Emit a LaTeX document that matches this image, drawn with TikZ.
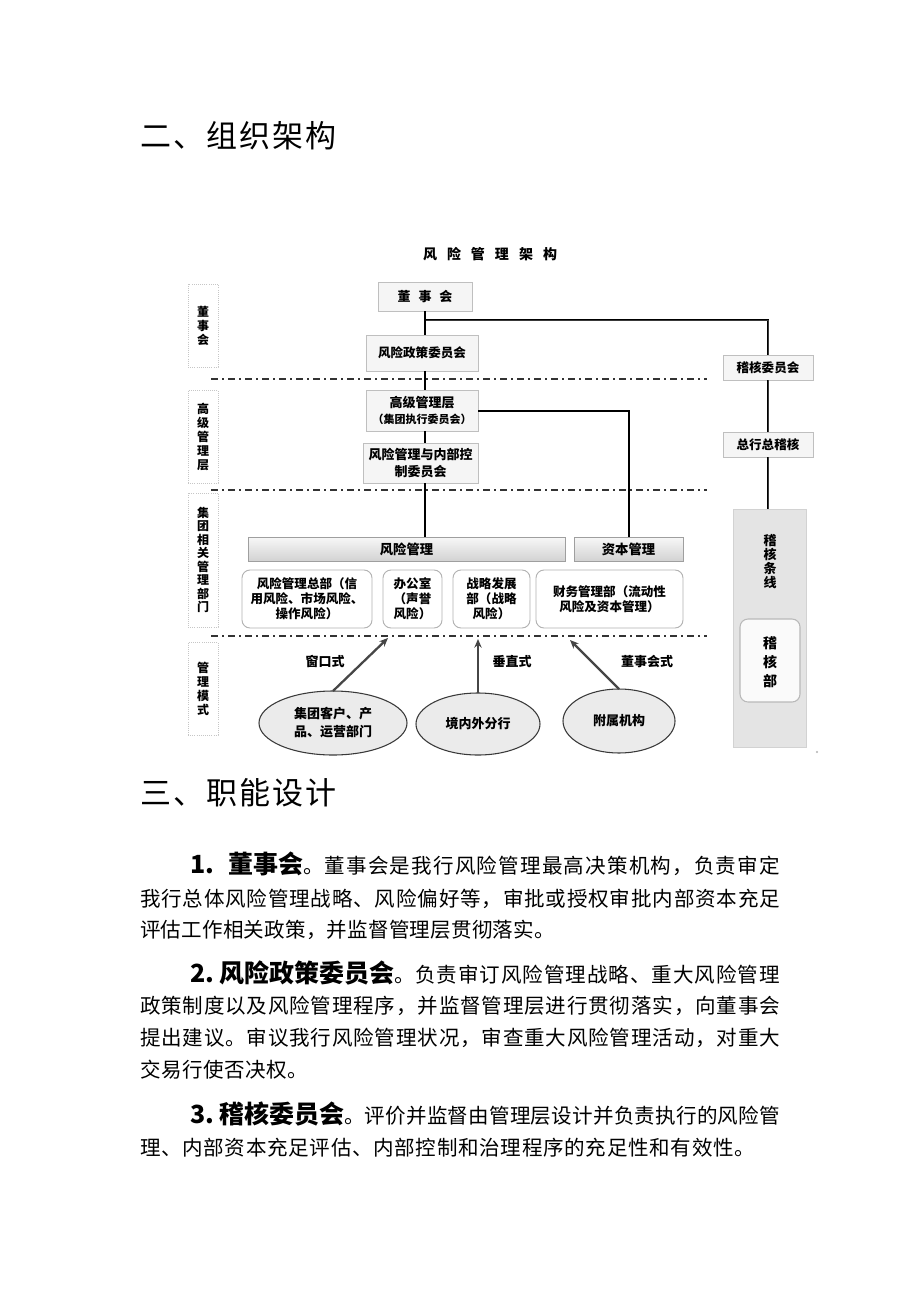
\documentclass[tikz,border=0pt]{standalone}
\usepackage{fontspec}
\setmainfont{Noto Sans CJK SC}
\usetikzlibrary{arrows.meta,shapes.geometric,shadows,calc}
\newcommand\spreadtxt[1]{\ifx\relax#1\else#1\hfil\expandafter\spreadtxt\fi}
\newcommand\sprbox[2]{\hbox to #1{\spreadtxt#2\relax\unskip}}
\begin{document}
\begin{tikzpicture}[x=0.75pt,y=-0.75pt,
  every node/.style={inner sep=0pt, outer sep=0pt},
  nbox/.style={draw=gray!50, fill=gray!8, line width=0.5pt, drop shadow={shadow xshift=0.9pt, shadow yshift=-0.9pt, fill=gray!55}, align=center, font=\bfseries\fontsize{9.4pt}{12pt}\selectfont},
  nbar/.style={draw=gray!75, line width=0.6pt, top color=gray!6, bottom color=gray!35, align=center, font=\bfseries\fontsize{10pt}{11pt}\selectfont},
  ndept/.style={draw=gray!60, fill=white, rounded corners=6pt, line width=0.7pt, minimum height=43.5pt, align=center, font=\bfseries\fontsize{9.4pt}{11.25pt}\selectfont},
  nlvl/.style={draw=gray!45, densely dotted, line width=0.6pt, minimum width=22.5pt, align=center, font=\bfseries\fontsize{9pt}{10.5pt}\selectfont},
  sepline/.style={gray!40!black, line width=1pt, dash pattern=on 5.25pt off 3pt on 1.5pt off 3pt},
  conn/.style={black, line width=1.5pt},
  dbl/.style={black, line width=0.8pt, double=gray!45!black, double distance=0.6pt},
  noval/.style={ellipse, draw=gray!45!black, fill=gray!16, line width=0.8pt, align=center, font=\bfseries\fontsize{9.75pt}{13.5pt}\selectfont},
  flowarr/.style={gray!55!black, line width=1.7pt, -{Stealth[length=6.5pt,width=5.5pt]}},
  modelab/.style={font=\bfseries\fontsize{9.75pt}{11pt}\selectfont},
  bodyline/.style={anchor=base west, font=\fontsize{15.4pt}{15.4pt}\selectfont},
]
\useasboundingbox (0,0) rectangle (920,1302);
\fill[white] (0,0) rectangle (920,1302);

% headings
\node[anchor=base west, font=\fontsize{23.25pt}{23.25pt}\selectfont] (h1) at (140,147.8) {\sprbox{147.75pt}{二、组织架构}};
\node[anchor=base west, font=\fontsize{23.25pt}{23.25pt}\selectfont] (h2) at (140,804.8) {\sprbox{147.75pt}{三、职能设计}};

% diagram title
\node[font=\bfseries\fontsize{10.5pt}{10.5pt}\selectfont] (title) at (490,254) {\sprbox{100.5pt}{风险管理架构}};

% separators
\draw[sepline] (211,379) -- (707,379);
\draw[sepline] (211,490) -- (707,490);
\draw[sepline] (211,636) -- (707,636);

% level labels
\node[nlvl, minimum height=62.25pt] (L1) at (203,325.5) {董\\事\\会};
\node[nlvl, minimum height=69.75pt] (L2) at (203,436.5) {高\\级\\管\\理\\层};
\node[nlvl, minimum height=100.5pt, font=\bfseries\fontsize{9pt}{10.1pt}\selectfont] (L3) at (203,560) {集\\团\\相\\关\\管\\理\\部\\门};
\node[nlvl, minimum height=69.75pt] (L4) at (203,688.5) {管\\理\\模\\式};

% main boxes
\node[nbox, minimum width=70.5pt, minimum height=21.75pt, font=\bfseries\fontsize{9.75pt}{11pt}\selectfont] (dsh) at (425,296.5) {\sprbox{41.25pt}{董事会}};
\node[nbox, minimum width=84pt, minimum height=27pt] (rpc) at (422,353) {风险政策委员会};
\node[nbox, minimum width=84pt, minimum height=30.75pt, font=\bfseries\fontsize{9.75pt}{12pt}\selectfont] (gm) at (422,410.5) {高级管理层\\{\fontsize{8.25pt}{12pt}\selectfont（集团执行委员会）}};
\node[nbox, minimum width=86.25pt, minimum height=30pt, font=\bfseries\fontsize{9.75pt}{12.75pt}\selectfont] (rmic) at (420.5,463) {风险管理与内部控\\制委员会};
\node[nbox, minimum width=67.5pt, minimum height=18.75pt] (audc) at (768,367.5) {稽核委员会};
\node[nbox, minimum width=67.5pt, minimum height=18.75pt] (cauditor) at (768,444.5) {总行总稽核};

% bars
\node[nbar, minimum width=237.75pt, minimum height=18pt] (rmbar) at (406.5,549) {风险管理};
\node[nbar, minimum width=81.75pt, minimum height=18pt] (capbar) at (628.5,549) {资本管理};

% departments
\node[ndept, minimum width=97.5pt] (b1) at (307,599) {风险管理总部（信\\用风险、市场风险、\\操作风险）};
\node[ndept, minimum width=44.25pt] (b2) at (412.5,599) {办公室\\（声誉\\风险）};
\node[ndept, minimum width=57.75pt] (b3) at (491.5,599) {战略发展\\部（战略\\风险）};
\node[ndept, minimum width=110.25pt] (b4) at (609.5,599) {财务管理部（流动性\\风险及资本管理）};

% ellipses
\node[noval, minimum width=111pt, minimum height=48pt] (e1) at (333,723) {集团客户、产\\品、运营部门};
\node[noval, minimum width=93pt, minimum height=46.5pt] (e2) at (478,724) {境内外分行};
\node[noval, minimum width=84pt, minimum height=48pt] (e3) at (619,721) {附属机构};

% mode labels
\node[modelab] (m1) at (325,662) {窗口式};
\node[modelab] (m2) at (512,662) {垂直式};
\node[modelab] (m3) at (647,662) {董事会式};

% audit column
\node[draw=gray!35, fill=gray!21, minimum width=54.75pt, minimum height=178.5pt, drop shadow={shadow xshift=0.8pt, shadow yshift=-0.8pt, fill=gray!45}] (col) at (769.5,628) {};
\node[font=\bfseries\fontsize{9.75pt}{10.5pt}\selectfont, align=center] (colt) at (770,562) {稽\\核\\条\\线};
\node[draw=gray!55, fill=gray!4, rounded corners=6pt, minimum width=45pt, minimum height=62.25pt, line width=0.8pt] (inbox) at (770,660.5) {};
\node[font=\bfseries\fontsize{10.5pt}{14.25pt}\selectfont, align=center] (inbt) at (770,662) {稽\\核\\部};
\fill[gray!60] (817,752) circle (0.8pt);

% connectors
\draw[conn] (dsh.south) -- (dsh.south |- rpc.north);
\draw[conn] (dsh.south |- rpc.south) -- (dsh.south |- gm.north);
\draw[conn] (dsh.south |- gm.south) -- (dsh.south |- rmic.north);
\draw[conn] (dsh.south |- rmic.south) -- (dsh.south |- rmbar.north);
\coordinate (tj) at (426,320);
\draw[dbl] (tj) -| (audc.north);
\draw[dbl] (audc.south) -- (cauditor.north);
\draw[dbl] (cauditor.south) -- (cauditor.south |- col.north);
\draw[conn] (gm.east) -| (capbar.north);

% arrows
\coordinate (a1) at (388,638);
\coordinate (a2) at (478,639);
\coordinate (a3) at (570,640);
\draw[flowarr] (e1.north) -- (a1);
\draw[flowarr] (e2.north) -- (a2);
\draw[flowarr] (e3.north) -- (a3);

% body text
\node[bodyline] (p1a) at (190,873.8) {\hbox to 442.5pt{{\bfseries\fontsize{18.75pt}{18.75pt}\selectfont 1.\hskip 10.5pt 董事会}\spreadtxt 。董事会是我行风险管理最高决策机构，负责审定\relax\unskip}};
\node[bodyline] (p1b) at (140,906.8) {\sprbox{480pt}{我行总体风险管理战略、风险偏好等，审批或授权审批内部资本充足}};
\node[bodyline] (p1c) at (140,937.8) {\sprbox{311.25pt}{评估工作相关政策，并监督管理层贯彻落实。}};

\node[bodyline] (p2a) at (190,982.8) {\hbox to 442.5pt{{\bfseries\fontsize{18.75pt}{18.75pt}\selectfont 2.\hskip 3.75pt 风险政策委员会}\spreadtxt 。负责审订风险管理战略、重大风险管理\relax\unskip}};
\node[bodyline] (p2b) at (140,1013.8) {\sprbox{480pt}{政策制度以及风险管理程序，并监督管理层进行贯彻落实，向董事会}};
\node[bodyline] (p2c) at (140,1045.8) {\sprbox{480pt}{提出建议。审议我行风险管理状况，审查重大风险管理活动，对重大}};
\node[bodyline] (p2d) at (140,1077.8) {\sprbox{126pt}{交易行使否决权。}};

\node[bodyline] (p3a) at (190,1123.8) {\hbox to 442.5pt{{\bfseries\fontsize{18.75pt}{18.75pt}\selectfont 3.\hskip 3.75pt 稽核委员会}\spreadtxt 。评价并监督由管理层设计并负责执行的风险管\relax\unskip}};
\node[bodyline] (p3b) at (140,1155.8) {\sprbox{461.25pt}{理、内部资本充足评估、内部控制和治理程序的充足性和有效性。}};
\end{tikzpicture}
\end{document}
